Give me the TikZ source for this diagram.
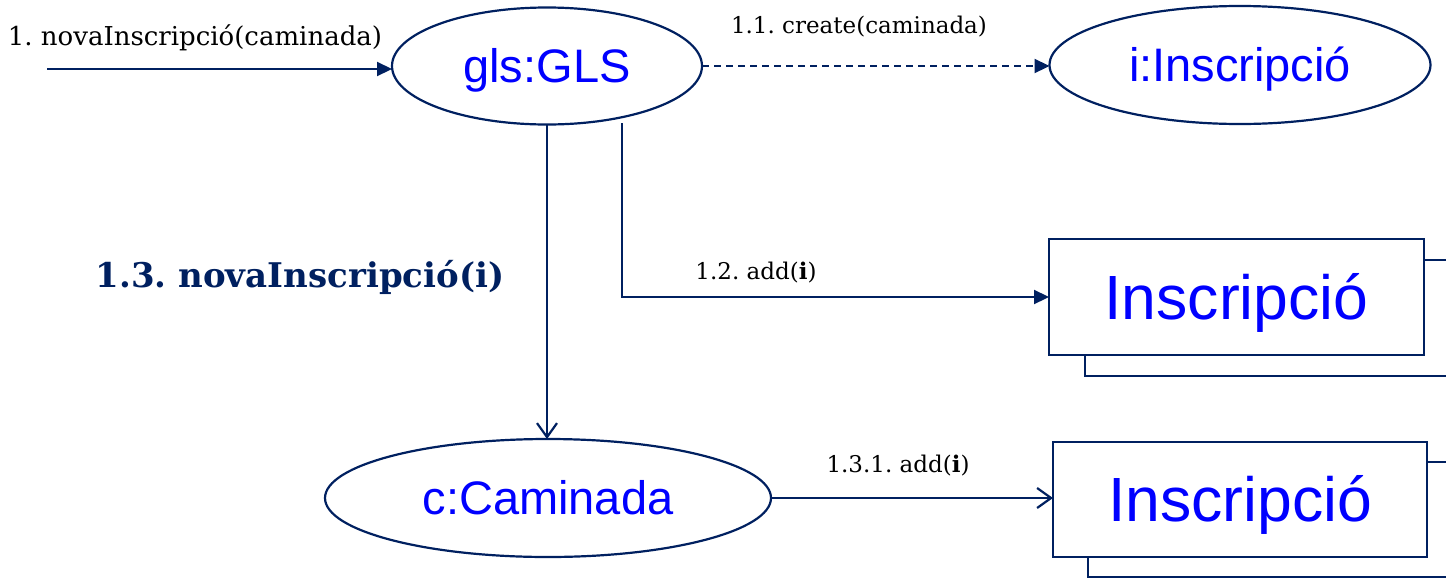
\documentclass[tikz,border=0pt]{standalone}
\usepackage{fontspec}
\setmainfont{DejaVu Serif}
\newfontfamily\arialf{Liberation Sans}
\usetikzlibrary{shapes.geometric,arrows.meta}
\definecolor{navy}{RGB}{0,32,96}
\definecolor{txtblue}{RGB}{0,0,255}
\tikzset{
  obj/.style={ellipse, draw=navy, line width=2.2pt, fill=white, inner sep=0pt, outer sep=0pt,
    font=\arialf\fontsize{47}{50}\selectfont, text=txtblue, text height=33.6pt, text depth=0pt},
  multi/.style={rectangle, draw=navy, line width=2.2pt, fill=white, inner sep=0pt, outer sep=0pt,
    font=\arialf\fontsize{62.5}{66}\selectfont, text=txtblue, text height=44.7pt, text depth=0pt},
  backbox/.style={rectangle, draw=navy, line width=2.2pt, fill=white, inner sep=0pt, outer sep=0pt},
  msg/.style={font=\fontsize{23}{26}\selectfont, text=black, anchor=base, inner sep=0pt},
  conn/.style={draw=navy, line width=2.2pt},
  fillarr/.style={-{Triangle[length=15pt,width=14pt]}},
  openarr/.style={-{Straight Barb[length=14pt,width=20pt]}},
}
\frenchspacing
\begin{document}
\begin{tikzpicture}[x=1pt,y=-1pt]
\useasboundingbox (0,0) rectangle (1446,579);
\clip (0,0) rectangle (1446,579);

% objects
\node[obj, minimum width=310pt, minimum height=117pt] (gls) at (547,66) {gls:GLS};
\node[obj, minimum width=381pt, minimum height=118pt] (ii) at (1240,65) {i:Inscripció};
\node[obj, minimum width=446pt, minimum height=118pt] (cam) at (548,498) {c:Caminada};

\node[backbox, minimum width=385pt, minimum height=116pt] (back1) at (1277.5,318) {};
\node[multi, minimum width=375pt, minimum height=116pt] (r1) at (1236.5,297) {Inscripció};
\node[backbox, minimum width=382pt, minimum height=115pt] (back2) at (1279,519.5) {};
\node[multi, minimum width=374pt, minimum height=115pt] (r2) at (1240,499.5) {Inscripció};

% free ends
\coordinate (start) at (47,69);
\coordinate (s12) at (622,123);

% connectors
\draw[conn, fillarr] (start) -- (start -| gls.west);
\draw[conn, fillarr, dash pattern=on 7pt off 5pt] (gls.east) -- (gls.east -| ii.west);
\draw[conn, fillarr] (s12) |- (r1.west);
\draw[conn, openarr] (gls.south) -- (gls.south |- cam.north);
\draw[conn, openarr] (cam.east) -- (cam.east -| r2.west);

% labels
\node[msg, font=\fontsize{26}{29}\selectfont] (l1) at (195,45) {1. novaInscripció(caminada)};
\node[msg] (l11) at (859,33) {1.1. create(caminada)};
\node[msg] (l12) at (756,279) {1.2. add(\textbf{i})};
\node[msg] (l131) at (898,472) {1.3.1. add(\textbf{i})};
\node[msg, font=\bfseries\fontsize{34}{38}\selectfont, text=navy] (l13) at (300,287) {1.3. novaInscripció(i)};
\end{tikzpicture}
\end{document}
